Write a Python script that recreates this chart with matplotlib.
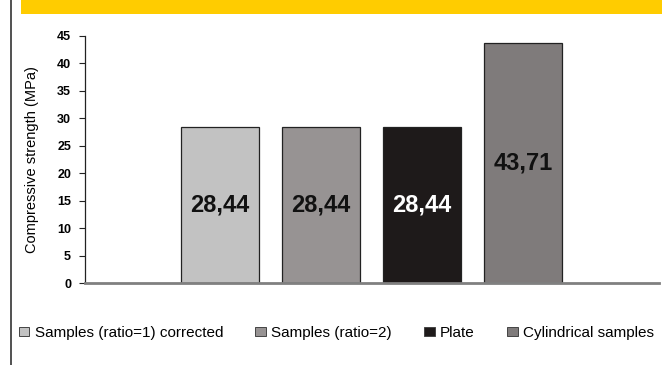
import matplotlib
matplotlib.use("Agg")
import matplotlib.pyplot as plt
from matplotlib.patches import Rectangle
from matplotlib.lines import Line2D

plt.rcParams['font.family'] = ['Liberation Sans', 'DejaVu Sans']

series = ["Samples (ratio=1) corrected", "Samples (ratio=2)", "Plate", "Cylindrical samples"]
values = [28.44, 28.44, 28.44, 43.71]
value_labels = ["28,44", "28,44", "28,44", "43,71"]
colors = ["#C2C2C2", "#979393", "#1E1A1A", "#7F7B7B"]
label_colors = ["#111111", "#111111", "#FFFFFF", "#111111"]
yticks = [0, 5, 10, 15, 20, 25, 30, 35, 40, 45]

fig = plt.figure(figsize=(6.62, 3.65), dpi=100)

# yellow header band and left rule
fig.patches.append(Rectangle((21 / 662, 1 - 14 / 365), 1 - 21 / 662, 14 / 365,
                             transform=fig.transFigure, facecolor="#FFCC00",
                             edgecolor="none", zorder=0))
fig.lines.append(Line2D([11 / 662, 11 / 662], [0, 1], transform=fig.transFigure,
                        color="#333333", linewidth=1.2))

ax = fig.add_axes([85 / 662, 82 / 365, 574 / 662, 247 / 365])
x = list(range(len(values)))
bars = ax.bar(x, values, width=0.77, color=colors, edgecolor="#222222",
              linewidth=0.9, zorder=2)
for xi, v, lab, lc in zip(x, values, value_labels, label_colors):
    ax.text(xi, v / 2, lab, ha="center", va="center", fontsize=17,
            fontweight="bold", color=lc, zorder=3)

ax.set_xlim(-1.34, 4.35)
ax.set_ylim(0, 45)
ax.set_yticks(yticks)
ax.set_yticklabels([str(t) for t in yticks], fontsize=9, fontweight="bold")
ax.set_xticks([])
for s in ["top", "right"]:
    ax.spines[s].set_visible(False)
ax.spines["left"].set_color("#222222")
ax.spines["left"].set_linewidth(0.9)
ax.spines["bottom"].set_color("#808080")
ax.spines["bottom"].set_linewidth(2)
ax.spines["bottom"].set_zorder(4)
ax.tick_params(axis="y", direction="out", length=4, width=0.8, color="#222222", pad=6)
ax.set_ylabel("Compressive strength (MPa)", fontsize=10.5, labelpad=13)

handles = [Rectangle((0, 0), 1, 1, facecolor=c, edgecolor="#444444", linewidth=0.7)
           for c in colors]
fig.legend(handles, series, loc="center", bbox_to_anchor=(0.508, 1 - 333 / 365),
           ncol=4, frameon=False, fontsize=11, handlelength=0.7,
           handleheight=0.55, handletextpad=0.35, columnspacing=2.1)

fig.savefig("out.png", dpi=100)
